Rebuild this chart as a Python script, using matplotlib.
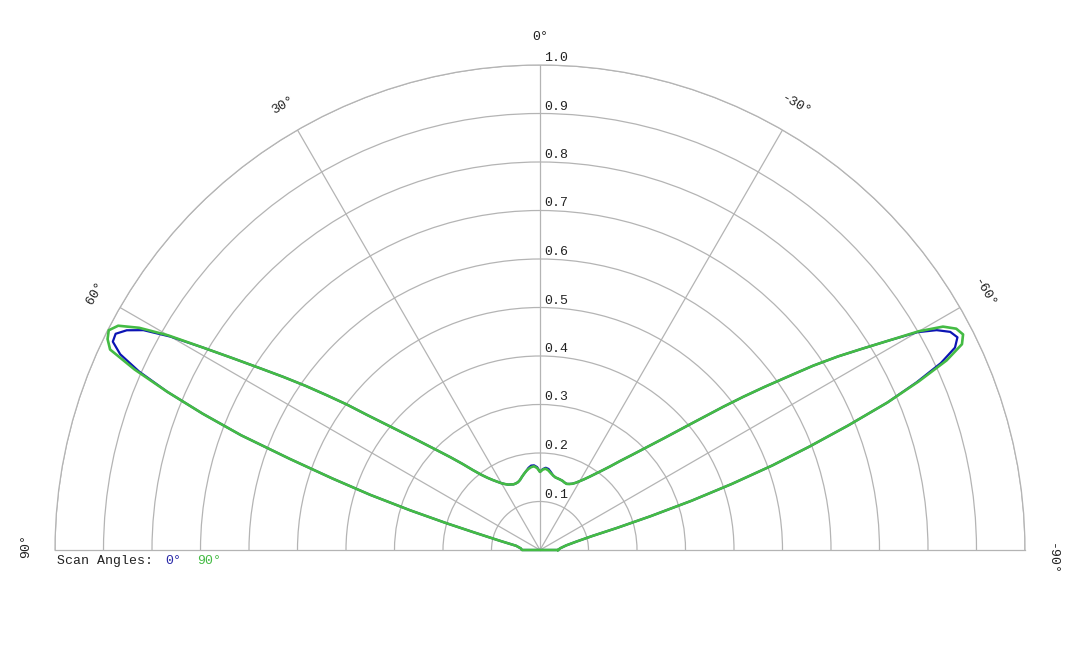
import numpy as np
import matplotlib
matplotlib.use("Agg")
import matplotlib.pyplot as plt

# ---------------- data ----------------
theta_deg = [-90, -85, -80, -77, -75, -74, -73, -72, -71, -70, -69, -68, -67, -66, -65,
             -64, -63, -62, -61, -60, -59, -58, -57, -56, -55, -54, -53, -52, -50, -48,
             -46, -44, -42, -40, -38, -36, -34, -32, -30, -28, -26, -24, -22, -20, -18,
             -16, -14, -12, -10, -8, -6, -4, -2, 0, 2, 4, 6, 8, 10, 12, 14, 16, 18, 20,
             22, 24, 26, 28, 30, 32, 34, 36, 38, 40, 42, 44, 46, 48, 50, 52, 53, 54, 55,
             56, 57, 58, 59, 60, 61, 62, 63, 64, 65, 66, 67, 68, 69, 70, 71, 72, 73, 74,
             75, 77, 80, 85, 90]

# scan angle 90 deg (green)
r_scan90 = [0.037, 0.042, 0.055, 0.077, 0.112, 0.165, 0.238, 0.328, 0.418, 0.510, 0.595,
            0.685, 0.778, 0.855, 0.925, 0.968, 0.979, 0.972, 0.950, 0.902, 0.838, 0.783,
            0.733, 0.680, 0.622, 0.572, 0.525, 0.480, 0.402, 0.345, 0.304, 0.272, 0.247,
            0.225, 0.208, 0.194, 0.182, 0.172, 0.164, 0.157, 0.152, 0.149, 0.147, 0.148,
            0.150, 0.151, 0.152, 0.153, 0.156, 0.160, 0.165, 0.168, 0.166, 0.161,
            0.169, 0.173, 0.172, 0.169, 0.165, 0.160, 0.155, 0.150, 0.147, 0.146, 0.146,
            0.148, 0.150, 0.154, 0.159, 0.166, 0.174, 0.184, 0.197, 0.215, 0.239, 0.266,
            0.297, 0.336, 0.386, 0.452, 0.498, 0.542, 0.590, 0.638, 0.688, 0.745, 0.810,
            0.885, 0.945, 0.985, 0.998, 0.992, 0.978, 0.915, 0.835, 0.750, 0.660, 0.548,
            0.452, 0.368, 0.280, 0.202, 0.143, 0.086, 0.050, 0.040, 0.037]

# scan angle 0 deg (blue)
r_scan0 = [0.037, 0.042, 0.055, 0.077, 0.112, 0.165, 0.238, 0.328, 0.418, 0.510, 0.595,
           0.685, 0.778, 0.850, 0.912, 0.952, 0.966, 0.958, 0.935, 0.898, 0.838, 0.783,
           0.733, 0.680, 0.622, 0.572, 0.525, 0.480, 0.402, 0.345, 0.304, 0.272, 0.247,
           0.225, 0.208, 0.194, 0.182, 0.172, 0.164, 0.157, 0.152, 0.149, 0.147, 0.148,
           0.150, 0.151, 0.152, 0.153, 0.156, 0.162, 0.168, 0.170, 0.167, 0.161,
           0.171, 0.175, 0.175, 0.171, 0.165, 0.160, 0.155, 0.150, 0.147, 0.146, 0.146,
           0.148, 0.150, 0.154, 0.159, 0.166, 0.174, 0.184, 0.197, 0.215, 0.239, 0.266,
           0.297, 0.336, 0.386, 0.452, 0.498, 0.542, 0.590, 0.638, 0.688, 0.745, 0.810,
           0.880, 0.935, 0.965, 0.982, 0.980, 0.955, 0.905, 0.835, 0.750, 0.660, 0.548,
           0.452, 0.368, 0.280, 0.202, 0.143, 0.086, 0.050, 0.040, 0.037]

radial_ticks = [0.1, 0.2, 0.3, 0.4, 0.5, 0.6, 0.7, 0.8, 0.9, 1.0]
radial_labels = ["0.1", "0.2", "0.3", "0.4", "0.5", "0.6", "0.7", "0.8", "0.9", "1.0"]
angle_ticks = [0, 30, 60, -30, -60]
angle_labels = ["0°", "30°", "60°", "-30°", "-60°"]
legend_title = "Scan Angles:"
series_names = ["0°", "90°"]

# ---------------- style ----------------
FONT = ["Liberation Mono", "DejaVu Sans Mono"]
TXT = "#222222"
GRID = "#b4b4b4"
BLUE = "#0c14b4"
GREEN = "#44bb44"
FS = 9.5

W, H = 1080, 648
cx, cy, R = 540, 550, 485          # centre and outer radius in pixels (from top-left)
fig = plt.figure(figsize=(W / 100, H / 100), dpi=100)
fig.patch.set_facecolor("white")
# polar wedge is placed in a square box; half-disc sits centred vertically in it
side = 2 * R
box_top = cy - R / 2 - R           # top of the square in pixels
ax = fig.add_axes([(cx - R) / W, (H - (box_top + side)) / H, side / W, side / H],
                  projection="polar")
ax.patch.set_alpha(0)
ax.set_theta_zero_location("N")
ax.set_theta_direction(1)
ax.set_thetamin(-90)
ax.set_thetamax(90)
ax.set_ylim(0, 1.0)
ax.set_rgrids(radial_ticks, labels=[""] * len(radial_ticks))
ax.set_thetagrids(angle_ticks, labels=[""] * len(angle_ticks))
ax.grid(True, color=GRID, linewidth=0.9)
for sp in ax.spines.values():
    sp.set_color(GRID)
    sp.set_linewidth(0.9)
ax.tick_params(length=0)

# curves (closed: last point joins first through the origin)
th = np.deg2rad(np.append(theta_deg, theta_deg[0]))
ax.plot(th, np.append(r_scan0, r_scan0[0]), color=BLUE, lw=1.6, clip_on=False, zorder=3,
        solid_joinstyle="round")
ax.plot(th, np.append(r_scan90, r_scan90[0]), color=GREEN, lw=1.9, clip_on=False, zorder=4,
        solid_joinstyle="round")

# radial labels
for r, lab in zip(radial_ticks, radial_labels):
    ax.annotate(lab, xy=(0, r), xytext=(4, 4), textcoords="offset pixels",
                ha="left", va="baseline", fontsize=FS, family=FONT, color=TXT,
                annotation_clip=False, zorder=5)

# angle labels
for a, lab in zip(angle_ticks, angle_labels):
    ax.text(np.deg2rad(a), 1.058, lab, rotation=a, rotation_mode="anchor",
            ha="center", va="center", fontsize=FS, family=FONT, color=TXT, clip_on=False)
ax.text(np.deg2rad(89.5), 1.060, "90°", rotation=90, rotation_mode="anchor",
        ha="center", va="center", fontsize=FS, family=FONT, color=TXT, clip_on=False)
ax.text(np.deg2rad(-91), 1.055, "-90°", rotation=-90, rotation_mode="anchor",
        ha="center", va="center", fontsize=FS, family=FONT, color=TXT, clip_on=False)

# legend
ly = 1 - 561 / H
fig.text(57 / W, ly, legend_title, ha="left", va="center", fontsize=FS, family=FONT, color=TXT)
fig.text(165 / W, ly, series_names[0], ha="left", va="center", fontsize=FS, family=FONT, color="#2a2aa8")
fig.text(197 / W, ly, series_names[1], ha="left", va="center", fontsize=FS, family=FONT, color=GREEN)

fig.savefig("out.png", dpi=100, facecolor="white")
